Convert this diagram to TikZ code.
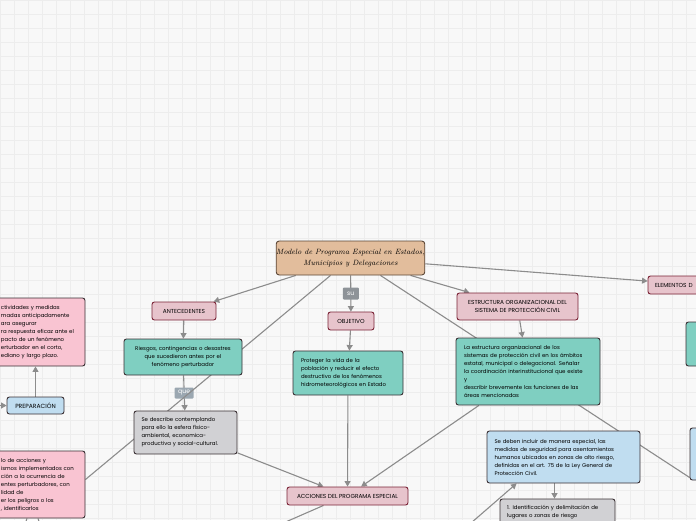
\documentclass[tikz,border=0pt]{standalone}
\usepackage{fontspec}
\newfontfamily\mapfont{Poppins}
\usetikzlibrary{arrows.meta,calc,backgrounds,positioning}
\definecolor{paper}{HTML}{F8F8F8}
\definecolor{gridcol}{HTML}{EDEDED}
\definecolor{titlefill}{HTML}{E2BD9C}
\definecolor{titleline}{HTML}{5B4636}
\definecolor{headfill}{HTML}{E7C4CC}
\definecolor{headline}{HTML}{7B2437}
\definecolor{tealfill}{HTML}{7FCFC1}
\definecolor{greyfill}{HTML}{D1D1D4}
\definecolor{pinkfill}{HTML}{F9C4D2}
\definecolor{bluefill}{HTML}{C0DDF0}
\definecolor{noteline}{HTML}{3A3034}
\definecolor{connline}{HTML}{8C8C8C}
\definecolor{tagsu}{HTML}{8E9398}
\definecolor{tagque}{HTML}{9BA7B1}
\begin{document}
\begin{tikzpicture}[x=1pt,y=-1pt,
	topic/.style={draw=titleline,fill=titlefill,rounded corners=3pt,line width=0.9pt,align=center,inner sep=0pt,font=\itshape\fontsize{7.6}{11}\selectfont},
	head/.style={draw=headline,fill=headfill,rounded corners=2.5pt,line width=0.9pt,inner sep=0pt,align=center,minimum height=18pt,font=\mapfont\fontsize{5.8}{7.5}\selectfont},
	note/.style={draw=noteline,rounded corners=2.5pt,line width=0.9pt,inner sep=0pt,align=left,font=\mapfont\fontsize{5.4}{8}\selectfont},
	conn/.style={draw=connline,line width=1.1pt,-{Triangle[length=5.5pt,width=6pt]}},
	link/.style={draw=connline,line width=1.1pt},
	tag/.style={text=white,inner sep=0pt,minimum height=11pt,rounded corners=1pt,font=\mapfont\fontsize{6.2}{7}\selectfont}]
	\useasboundingbox (0,0) rectangle (696,520);
	\begin{scope}[on background layer]
		\fill[paper] (0,0) rectangle (696,520);
		\draw[gridcol,line width=0.6pt,step=14pt] (0,0) grid (696,520);
	\end{scope}
	\clip (0,0) rectangle (696,520);
	% central topic
	\node[topic,minimum width=145pt,minimum height=34pt] (title) at (350.5,258) {Modelo de Programa Especial en Estados,\\ Municipios y Delegaciones};
	% left branch
	\node[head,minimum width=64pt] (antec) at (184,311) {ANTECEDENTES};
	\node[note,fill=tealfill,align=center,minimum width=118pt,minimum height=36pt,text width=112pt] (riesgos) at (183,357) {Riesgos, contingencias o desastres\\ que sucedieron antes por el\\ fenómeno perturbador};
	\node[note,fill=greyfill,minimum width=103pt,minimum height=43pt,text width=88pt] (describe) at (185.5,432.5) {Se describe contemplando\\ para ello la esfera físico-\\ ambiental, economica-\\ productiva y social-cultural.};
	% objetivo
	\node[head,minimum width=46pt] (objetivo) at (351,321) {OBJETIVO};
	\node[note,fill=tealfill,minimum width=110pt,minimum height=44pt,text width=94pt] (proteger) at (348,373) {Proteger la vida de la\\ población y reducir el efecto\\ destructivo de los fenómenos\\ hidrometeorológicos en Estado};
	% estructura
	\node[head,minimum width=121pt,minimum height=27pt] (estruct) at (517.5,306.5) {ESTRUCTURA ORGANIZACIONAL DEL\\ SISTEMA DE PROTECCIÓN CIVIL};
	\node[note,fill=tealfill,minimum width=144pt,minimum height=67pt,text width=128pt] (estructnote) at (528,371.5) {La estructura organizacional de los\\ sistemas de protección civil en los ámbitos\\ estatal, municipal o delegacional. Señalar\\ la coordinación interinstitucional que existe\\ y\\ describir brevemente las funciones de las\\ áreas mencionadas};
	\node[head,align=left,minimum width=100pt,text width=86pt] (elementos) at (698,285) {ELEMENTOS D};
	\node[note,fill=tealfill,minimum width=80pt,minimum height=44pt] (rteal) at (726,344) {};
	\node[note,fill=bluefill,minimum width=80pt,minimum height=52pt] (rblue) at (730,454) {};
	% acciones
	\node[head,minimum width=121pt] (acciones) at (347.5,496) {ACCIONES DEL PROGRAMA ESPECIAL};
	\node[note,fill=bluefill,minimum width=153pt,minimum height=52pt,text width=138pt] (medidas) at (563.5,457) {Se deben incluir de manera especial, las\\ medidas de seguridad para asentamientos\\ humanos ubicados en zonas de alto riesgo,\\ definidas en el art. 75 de la Ley General de\\ Protección Civil.};
	\node[note,fill=greyfill,minimum width=115pt,minimum height=26pt,text width=101pt,font=\mapfont\fontsize{5.4}{7.6}\selectfont] (zonas) at (557.5,512) {1. Identificación y delimitación de\\ lugares o zonas de riesgo};
	% far left
	\node[note,fill=pinkfill,minimum width=88pt,minimum height=68pt,text width=80pt] (prepnote) at (41,332) {ctividades y medidas\\ madas anticipadamente\\ ara asegurar\\ ra respuesta eficaz ante el\\ pacto de un fenómeno\\ erturbador en el corto,\\ ediano y largo plazo.};
	\node[note,fill=bluefill,align=center,minimum width=57pt,minimum height=17pt,font=\mapfont\fontsize{6}{7}\selectfont] (prep) at (35.5,405.5) {PREPARACIÓN};
	\node[note,fill=pinkfill,minimum width=88pt,minimum height=67pt,text width=80pt] (accnote) at (41,484.5) {lo de acciones y\\ ismos implementados con\\ ción a la ocurrencia de\\ entes perturbadores, con\\ lidad de\\ er los peligros o los\\ , identificarlos};
	\coordinate (prepin) at (-6,405.5);
	\coordinate (medin) at (471,523);
	\coordinate (accout) at (281,524);
	% connectors
	\begin{scope}[on background layer]
		\draw[conn] (title) -- (antec);
		\draw[conn] (antec) -- (riesgos);
		\draw[conn] (riesgos) -- node[tag,fill=tagque,minimum width=19pt] {que} (describe);
		\draw[conn] (describe) -- (acciones);
		\draw[conn] (title) -- node[tag,fill=tagsu,minimum width=16pt,minimum height=12pt] {su} (objetivo);
		\draw[conn] (objetivo) -- (proteger);
		\draw[conn] (proteger) -- (acciones);
		\draw[conn] (title) -- (estruct);
		\draw[conn] (estruct) -- (estructnote);
		\draw[conn] (estructnote) -- (acciones);
		\draw[conn] (title) -- (elementos);
		\draw[conn] (medidas.south -| zonas.north) ++(-3,0) -- ($(zonas.north)+(-3,0)$);
		\draw[conn] (medin) -- ($(medidas.south west)+(30,0)$);
		\draw[link] ($(title.south)+(30,0)$) -- ($(rblue.south west)+(0,-3)$);
		\draw[link] ($(title.south)+(-20,0)$) -- ($(accnote.east)+(0,-5)$);
		\draw[link] ($(acciones.south)+(-24,0)$) -- (accout);
		\draw[conn] (prepin) -- (prep);
		\draw[conn] (prep.north) -- (prep.north |- prepnote.south);
		\draw[link] ($(accnote.south)+(-14,0)$) -- ++(-2,6);
		\draw[link] ($(accnote.south)+(-3,0)$) -- ++(2,6);
	\end{scope}
\end{tikzpicture}
\end{document}
